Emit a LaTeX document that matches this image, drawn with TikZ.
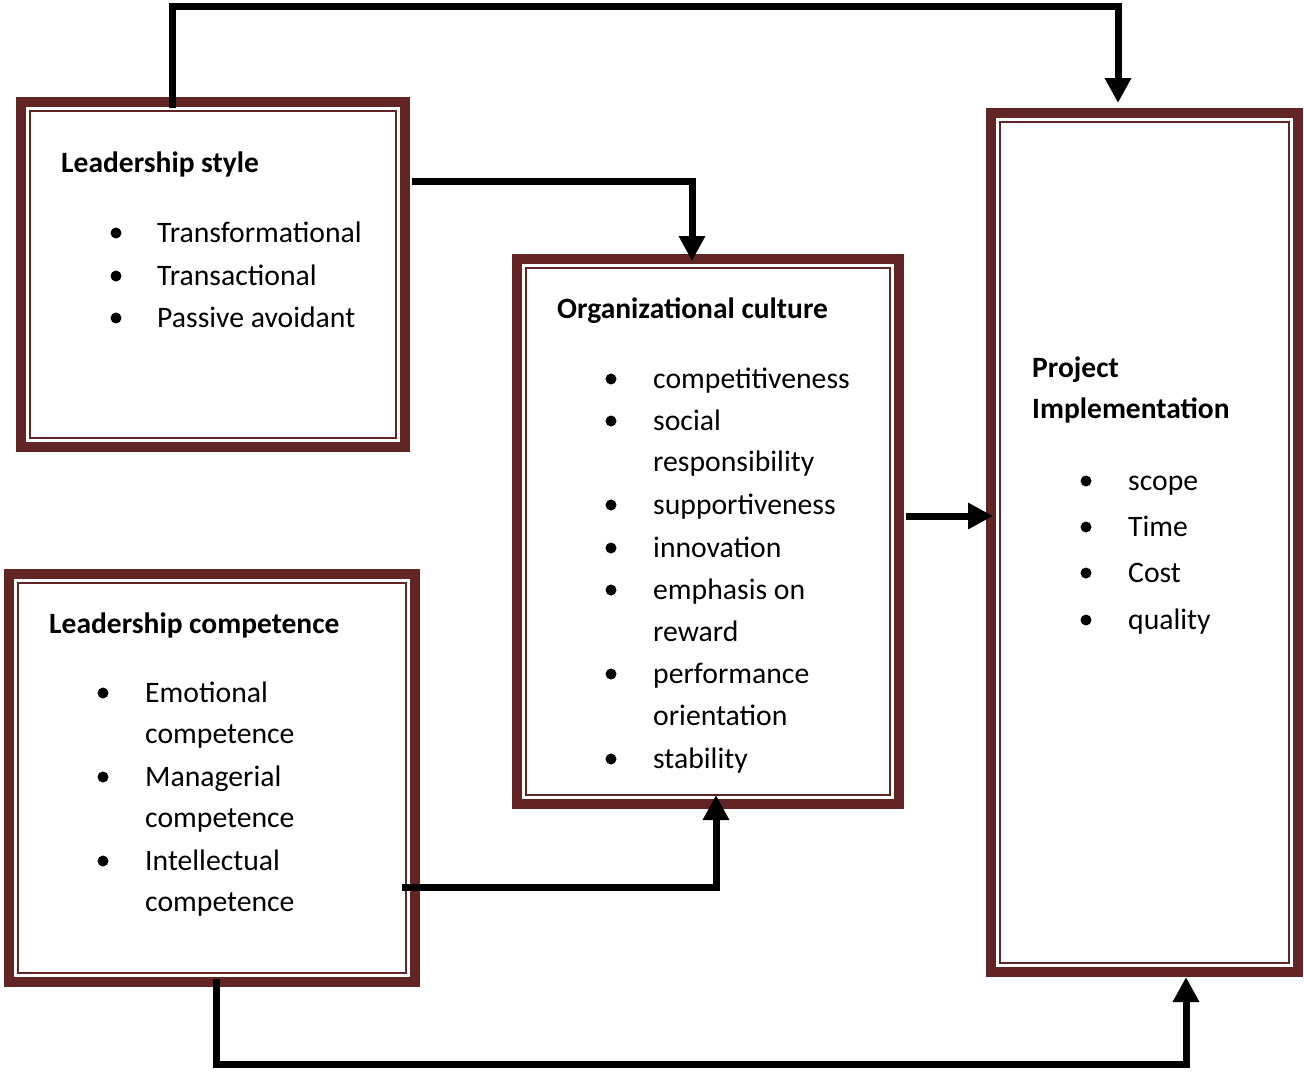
\documentclass[tikz,border=0pt]{standalone}
\usepackage{fontspec}
\setmainfont{Carlito}
\usetikzlibrary{arrows.meta}
\definecolor{frame}{HTML}{632523}
\tikzset{
  box/.style={draw=frame, line width=10pt, rectangle, inner sep=0pt, outer sep=0pt},
  inbox/.style={draw=frame, line width=2pt},
  conn/.style={draw=black, line width=7pt, -{Triangle[length=25pt,width=25pt]}, line join=miter},
  txt/.style={anchor=base west, inner sep=0pt, font=\fontsize{29.7}{35}\selectfont},
  hd/.style={txt, font=\fontsize{29.5}{35}\selectfont\bfseries},
  bul/.style={circle, fill=black, inner sep=0pt, minimum size=11pt}
}
\begin{document}
\begin{tikzpicture}[x=1pt,y=-1pt]
\useasboundingbox (0,0) rectangle (1304,1072);
% boxes
\node[box, minimum width=384pt, minimum height=345pt] (ls) at (213,274.5) {};
\node[box, minimum width=382pt, minimum height=545pt] (oc) at (708,531.5) {};
\node[box, minimum width=307pt, minimum height=859pt] (pi) at (1144.5,542.5) {};
\node[box, minimum width=406pt, minimum height=408pt] (lc) at (212,778) {};
\foreach \b in {ls,oc,pi,lc}{
  \draw[inbox] ([shift={(9,9)}]\b.north west) rectangle ([shift={(-9,-9)}]\b.south east);
}
% Leadership style
\node[hd] (lsh) at (61,172) {Leadership style};
\node[bul] (lsb1) at (116,233) {}; \node[txt] (ls1) at (157,242) {Transformational};
\node[bul] (lsb2) at (116,276) {}; \node[txt] (ls2) at (157,285) {Transactional};
\node[bul] (lsb3) at (116,318) {}; \node[txt] (ls3) at (157,327) {Passive avoidant};
% Organizational culture
\node[hd] (och) at (557,318) {Organizational culture};
\node[bul] (ocb1) at (611,379) {}; \node[txt] (oc1) at (653,388) {competitiveness};
\node[bul] (ocb2) at (611,421) {}; \node[txt] (oc2) at (653,430) {social};
\node[txt] (oc2b) at (653,471) {responsibility};
\node[bul] (ocb3) at (611,505) {}; \node[txt] (oc3) at (653,514) {supportiveness};
\node[bul] (ocb4) at (611,548) {}; \node[txt] (oc4) at (653,557) {innovation};
\node[bul] (ocb5) at (611,590) {}; \node[txt] (oc5) at (653,599) {emphasis on};
\node[txt] (oc5b) at (653,641) {reward};
\node[bul] (ocb6) at (611,674) {}; \node[txt] (oc6) at (653,683) {performance};
\node[txt] (oc6b) at (653,725) {orientation};
\node[bul] (ocb7) at (611,759) {}; \node[txt] (oc7) at (653,768) {stability};
% Project implementation
\node[hd] (pih1) at (1032,377) {Project};
\node[hd] (pih2) at (1032,418) {Implementation};
\node[bul] (pib1) at (1086,481) {}; \node[txt] (pi1) at (1128,490) {scope};
\node[bul] (pib2) at (1086,527) {}; \node[txt] (pi2) at (1128,536) {Time};
\node[bul] (pib3) at (1086,573) {}; \node[txt] (pi3) at (1128,582) {Cost};
\node[bul] (pib4) at (1086,620) {}; \node[txt] (pi4) at (1128,629) {quality};
% Leadership competence
\node[hd] (lch) at (49,633) {Leadership competence};
\node[bul] (lcb1) at (103,693) {}; \node[txt] (lc1) at (145,702) {Emotional};
\node[txt] (lc1b) at (145,743) {competence};
\node[bul] (lcb2) at (103,777) {}; \node[txt] (lc2) at (145,786) {Managerial};
\node[txt] (lc2b) at (145,827) {competence};
\node[bul] (lcb3) at (103,861) {}; \node[txt] (lc3) at (145,870) {Intellectual};
\node[txt] (lc3b) at (145,911) {competence};
% connectors
\draw[conn] ([shift={(151,6)}]ls.north west) -- ++(0,-102) -| ([shift={(127,-10)}]pi.north west);
\draw[conn] ([shift={(7,79)}]ls.north east) -| ([shift={(175,2)}]oc.north west);
\draw[conn] ([shift={(7,-15.5)}]oc.east) -- ([shift={(2,-26.5)}]pi.west);
\draw[conn] ([shift={(-13,109)}]lc.east) -| ([shift={(199,-9)}]oc.south west);
\draw[conn] ([shift={(4,-3)}]lc.south) -- ++(0,85) -| ([shift={(195,5)}]pi.south west);
\end{tikzpicture}
\end{document}
